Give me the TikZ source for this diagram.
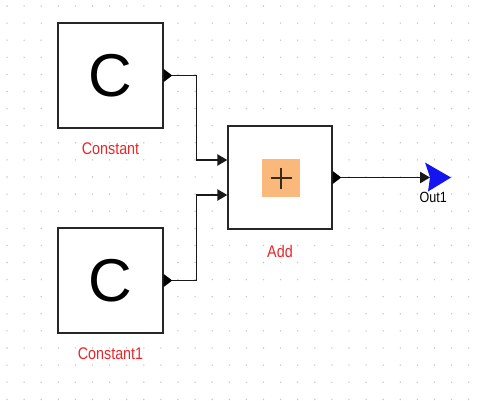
\documentclass[tikz,border=0pt]{standalone}
\usepackage{fontspec}
\setmainfont{Liberation Sans}
\usepackage{graphicx}
\usetikzlibrary{arrows.meta,positioning,calc}
\definecolor{lblred}{HTML}{E8262B}
\definecolor{addorange}{HTML}{FAB87A}
\definecolor{plusbrown}{HTML}{3A2818}
\definecolor{gridgray}{HTML}{C4C4C4}
\definecolor{outblue}{HTML}{1414F0}
\newcommand{\narrowtxt}[1]{\scalebox{0.85}[1]{#1}}

\begin{document}
\begin{tikzpicture}[x=0.025cm,y=-0.025cm,
  blk/.style={draw=black!85,line width=1pt,fill=white,inner sep=0pt,
              minimum width=2.625cm,minimum height=2.625cm},
  cst/.style={blk,font=\fontsize{43}{43}\selectfont},
  lbl/.style={text=lblred,inner sep=0pt,font=\fontsize{12}{14}\selectfont},
  olbl/.style={inner sep=0pt,font=\fontsize{10.5}{12}\selectfont},
  wire/.style={black!90,line width=0.9pt},
  tip/.style={wire,-{Triangle[length=7pt,width=8pt]}}]

\useasboundingbox (0,0) rectangle (485,400);

% ---------------- dotted grid ----------------------------------------------
\foreach \i in {0,...,28}
  \foreach \j in {0,...,23}
    \fill[gridgray] (7+17.1*\i,6+17.1*\j) circle (0.55pt);

% ---------------- blocks ---------------------------------------------------
\node[cst] (cst)  at (110.5,75.5)  {C};
\node[cst] (cst1) at (110.5,280.5) {C};
\node[blk,minimum width=2.6cm,minimum height=2.575cm] (add) at (280,177.5) {};
\node[fill=addorange,minimum size=0.95cm,inner sep=0pt] (sum) at (281,178) {};
\draw[plusbrown,line width=1.4pt] ($(sum.center)+(-10.5,0)$) -- ($(sum.center)+(10.5,0)$)
      ($(sum.center)+(0,-10.5)$) -- ($(sum.center)+(0,10.5)$);

\node[lbl,below=0.35cm of cst]  (cstlbl)  {\narrowtxt{Constant}};
\node[lbl,below=0.35cm of cst1] (cst1lbl) {\narrowtxt{Constant1}};
\node[lbl,below=0.38cm of add]  (addlbl)  {\narrowtxt{Add}};

% ---------------- output ports ---------------------------------------------
\foreach \b in {cst,cst1,add}
  \fill[black] (\b.east) ++(0,-6.5) -- ++(8.5,6.5) -- ++(-8.5,6.5) -- cycle;
\coordinate (cst-o)  at ($(cst.east)+(8,0)$);
\coordinate (cst1-o) at ($(cst1.east)+(8,0)$);
\coordinate (add-o)  at ($(add.east)+(8,0)$);
\coordinate (add-i1) at ($(add.west)+(0,-17.5)$);
\coordinate (add-i2) at ($(add.west)+(0,17.5)$);

% ---------------- outport --------------------------------------------------
\coordinate (out) at (430,177.5);
\fill[outblue] (out) -- ++(-5,-15) -- ++(26,15) -- ++(-23,14) -- cycle;
\node[olbl,below=0.37cm of out,xshift=0.08cm] (outlbl) {\narrowtxt{Out1}};

% ---------------- wires ----------------------------------------------------
\draw[tip] (cst-o) -- ++(25,0) |- (add-i1);
\draw[tip] (cst1-o) -- ++(25,0) |- (add-i2);
\draw[tip] (add-o) -- (out);

\end{tikzpicture}
\end{document}
